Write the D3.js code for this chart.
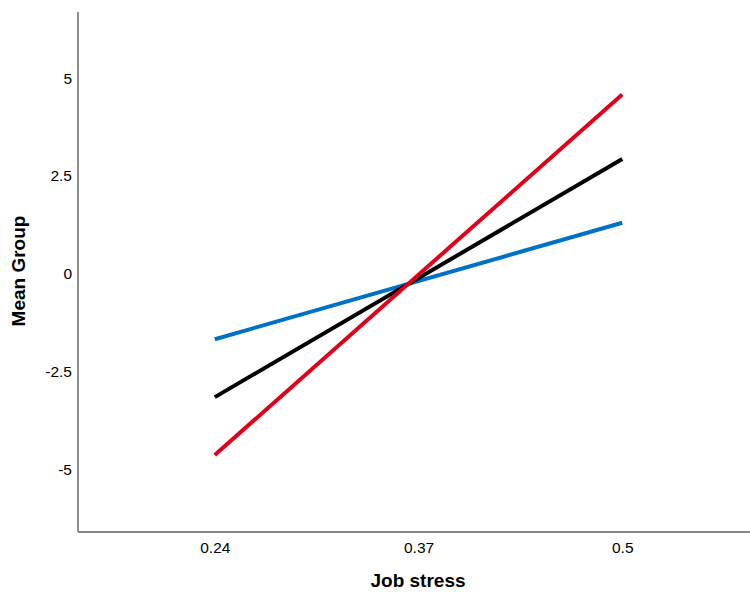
<!DOCTYPE html>
<html><head><meta charset="utf-8">
<script src="https://cdn.jsdelivr.net/npm/d3@7"></script>
<style>body{margin:0;background:#fff}svg{display:block}text{font-family:"Liberation Sans",Arial,sans-serif}</style>
</head><body>
<svg id="c" width="750" height="592"></svg>
<script>
const xValues = [0.24, 0.5];
const xTicks = [0.24, 0.37, 0.5];
const yTicks = [-5, -2.5, 0, 2.5, 5];
const blueSeries = [-1.68, 1.30];
const blackSeries = [-3.16, 2.93];
const redSeries = [-4.64, 4.58];
const seriesList = [
  {name: "low", values: blueSeries, color: "#0072c6"},
  {name: "mean", values: blackSeries, color: "#000000"},
  {name: "high", values: redSeries, color: "#e1001a"}
];

const svg = d3.select("#c");
const padL = 78, padR = 750, padT = 12, padB = 532;
const x = d3.scaleLinear().domain([0.1527, 0.5815]).range([padL, padR]);
const y = d3.scaleLinear().domain([-6.61, 6.69]).range([padB, padT]);

// y axis
const yAxis = svg.append("g").attr("transform", `translate(${padL},0)`)
  .call(d3.axisLeft(y).tickValues(yTicks).tickSize(0).tickPadding(6)
    .tickFormat(d => String(d)));
yAxis.select(".domain").attr("stroke", "#444").attr("stroke-width", 1.2).attr("d", `M0,${padT}V${padB}`);
yAxis.selectAll("text").attr("font-size", 15.5).attr("fill", "#000");

// x axis
const xAxis = svg.append("g").attr("transform", `translate(0,${padB})`)
  .call(d3.axisBottom(x).tickValues(xTicks).tickSize(0).tickPadding(10)
    .tickFormat(d => String(d)));
xAxis.select(".domain").attr("stroke", "#888").attr("stroke-width", 2).attr("d", `M${padL},0H${padR}`);
xAxis.selectAll("text").attr("font-size", 15.5).attr("fill", "#000");

// lines
const line = d3.line().x((d, i) => x(xValues[i])).y(d => y(d));
svg.append("g").selectAll("path").data(seriesList).join("path")
  .attr("d", d => line(d.values))
  .attr("fill", "none")
  .attr("stroke", d => d.color)
  .attr("stroke-width", 4);

// titles
svg.append("text").attr("x", 418).attr("y", 587).attr("text-anchor", "middle")
  .attr("font-size", 19).attr("font-weight", "bold").text("Job stress");
svg.append("text").attr("transform", "translate(25,271) rotate(-90)").attr("text-anchor", "middle")
  .attr("font-size", 19).attr("font-weight", "bold").text("Mean Group");
</script>
</body></html>
